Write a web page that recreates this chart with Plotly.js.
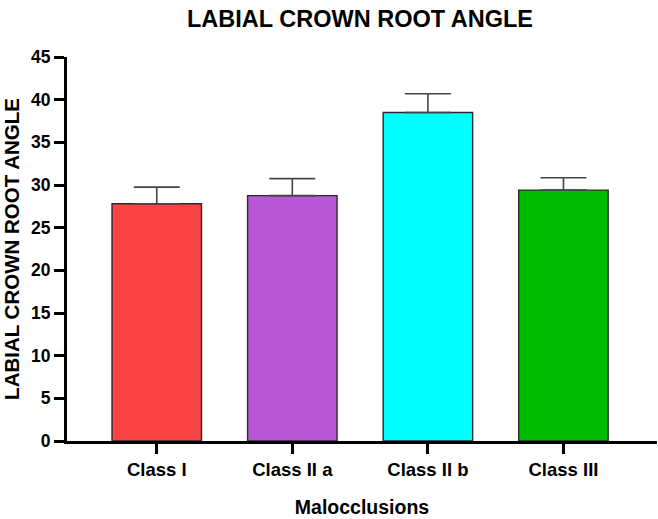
<!DOCTYPE html>
<html>
<head>
<meta charset="utf-8">
<script src="https://cdn.plot.ly/plotly-3.0.1.min.js"></script>
<style>html,body{margin:0;padding:0;background:#fff;}#chart{width:658px;height:519px;}</style>
</head>
<body>
<div id="chart"></div>
<script>
const categories = ["Class I", "Class II a", "Class II b", "Class III"];
const meanValues = [27.8, 28.75, 38.5, 29.4];
const errorValues = [1.95, 2.0, 2.2, 1.45];
const barColors = ["#FA4343", "#B857D6", "#00FFFF", "#00BC00"];
const yTicks = [0, 5, 10, 15, 20, 25, 30, 35, 40, 45];

const font = "Liberation Sans, Arial, sans-serif";

const trace = {
  type: "bar",
  x: categories,
  y: meanValues,
  width: 0.66,
  marker: {color: barColors, line: {color: "#2a2a2a", width: 1.4}},
  error_y: {type: "data", array: errorValues, symmetric: false, arrayminus: [0,0,0,0],
            visible: true, color: "#444", thickness: 1.6, width: 23},
  hoverinfo: "none"
};

const layout = {
  width: 658, height: 519,
  margin: {l: 67, r: 1, t: 57, b: 78},
  paper_bgcolor: "#fff", plot_bgcolor: "#fff",
  showlegend: false,
  title: {text: "<b>LABIAL CROWN ROOT ANGLE</b>", font: {family: font, size: 23.5, color: "#000"},
          x: 360/658, xanchor: "center", xref: "container", y: 1 - 18.5/519, yanchor: "middle", yref: "container"},
  xaxis: {
    type: "category", range: [-0.662, 3.69],
    showline: true, linecolor: "#000", linewidth: 3,
    ticks: "outside", ticklen: 10, tickwidth: 3, tickcolor: "#000",
    tickfont: {family: font, size: 18.5, color: "#000"},
    showgrid: false, zeroline: false,
    title: {text: "<b>Malocclusions</b>", font: {family: font, size: 19.5, color: "#000"}, standoff: 22}
  },
  yaxis: {
    range: [0, 45], tickvals: yTicks, ticktext: yTicks.map(v => "<b>" + v + "</b>"),
    showline: true, linecolor: "#000", linewidth: 3,
    ticks: "outside", ticklen: 10, tickwidth: 3, tickcolor: "#000",
    tickfont: {family: font, size: 17.5, color: "#000"},
    showgrid: false, zeroline: false,
    title: {text: "<b>LABIAL CROWN ROOT ANGLE</b>", font: {family: font, size: 20.5, color: "#000"}, standoff: 6}
  }
};
layout.xaxis.ticktext = categories.map(c => "<b>" + c + "</b>");
layout.xaxis.tickvals = categories;

Plotly.newPlot("chart", [trace], layout, {displayModeBar: false, staticPlot: true});
</script>
</body>
</html>
